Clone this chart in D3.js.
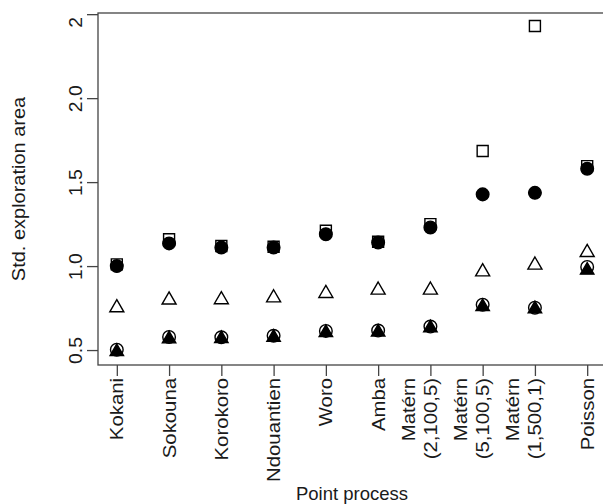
<!DOCTYPE html>
<html lang="en">
<head>
  <meta charset="UTF-8">
  <title>Std. exploration area by point process</title>
  <script src="https://d3js.org/d3.v7.min.js"></script>
  <style>
    body { margin: 0; background: #fff; }
    svg text { font-family: "Liberation Sans", Arial, Helvetica, sans-serif; fill: #1a1a1a; }
    .axis path, .axis line { stroke: #444; stroke-width: 1.3; }
  </style>
</head>
<body>
  <svg width="603" height="504"></svg>
  <script>
    // categories (multi-line labels split by "\n")
    const categories = ["Kokani", "Sokouna", "Korokoro", "Ndouantien", "Woro", "Amba",
      "Matérn\n(2,100,5)", "Matérn\n(5,100,5)", "Matérn\n(1,500,1)", "Poisson"];

    // series values
    const openSquare   = [1.01, 1.16, 1.12, 1.115, 1.21, 1.145, 1.25, 1.685, 2.43, 1.595];
    const filledCircle = [1.00, 1.135, 1.11, 1.11, 1.19, 1.14, 1.23, 1.427, 1.436, 1.58];
    const openTriangle = [0.752, 0.798, 0.80, 0.811, 0.837, 0.857, 0.857, 0.966, 1.006, 1.081];
    const openCircle   = [0.502, 0.578, 0.576, 0.585, 0.614, 0.616, 0.64, 0.77, 0.752, 0.995];
    const filledTriangle = [0.49, 0.566, 0.568, 0.575, 0.604, 0.607, 0.632, 0.758, 0.745, 0.975];

    const yTicks = [0.5, 1.0, 1.5, 2.0, 2.5];
    const yTickLabels = ["0.5", "1.0", "1.5", "2.0", "2"];

    const svg = d3.select("svg");
    const margin = {left: 98, top: 13, right: -3, bottom: 139};
    const W = 603, H = 504;

    const x = d3.scaleLinear().domain([0.64, 10.36]).range([margin.left, W - margin.right]);
    const y = d3.scaleLinear().domain([0.411, 2.507]).range([H - margin.bottom, margin.top]);

    // box
    svg.append("rect")
      .attr("x", x(0.64)).attr("y", y(2.507))
      .attr("width", x(10.36) - x(0.64)).attr("height", y(0.411) - y(2.507))
      .attr("fill", "none").attr("stroke", "#444").attr("stroke-width", 1.3);

    // y axis
    const yAxis = svg.append("g")
      .attr("class", "axis")
      .attr("transform", `translate(${margin.left},0)`)
      .call(d3.axisLeft(y).tickValues(yTicks).tickSize(11).tickSizeOuter(0)
        .tickFormat((d, i) => yTickLabels[i]));
    yAxis.select(".domain").remove();
    yAxis.selectAll("text")
      .attr("font-size", 18)
      .attr("text-anchor", "middle")
      .attr("x", (d, i) => i === yTicks.length - 1 ? -7 : 0)
      .attr("y", -16)
      .attr("dy", null)
      .attr("transform", "rotate(-90) scale(1.08,1)");

    // x axis
    const xAxis = svg.append("g")
      .attr("class", "axis")
      .attr("transform", `translate(0,${y(0.411)})`)
      .call(d3.axisBottom(x).tickValues(d3.range(1, categories.length + 1))
        .tickSize(11).tickSizeOuter(0).tickFormat(""));
    xAxis.select(".domain").remove();

    categories.forEach((c, i) => {
      const lines = c.split("\n");
      lines.forEach((ln, j) => {
        const off = (lines.length - 1 - j) * 22;
        svg.append("text")
          .attr("transform", `translate(${x(i + 1) - off},${y(0.411) + 13}) rotate(-90) scale(1.13,1)`)
          .attr("text-anchor", "end")
          .attr("dy", "0.36em")
          .attr("font-size", 18)
          .text(ln);
      });
    });

    // titles
    svg.append("text")
      .attr("x", (x(0.64) + x(10.36)) / 2).attr("y", 500)
      .attr("text-anchor", "middle").attr("font-size", 18.5)
      .text("Point process");
    svg.append("text")
      .attr("transform", `translate(25,${(y(0.411) + y(2.507)) / 2}) rotate(-90) scale(1.08,1)`)
      .attr("text-anchor", "middle").attr("font-size", 18.5)
      .text("Std. exploration area");

    // markers
    const series = [
      {vals: openSquare, type: d3.symbolSquare, size: 121, fill: "none", stroke: "#000"},
      {vals: filledCircle, type: d3.symbolCircle, size: 125, fill: "#000", stroke: "#000"},
      {vals: openTriangle, type: d3.symbolTriangle, size: 85, fill: "#fff", stroke: "#000"},
      {vals: openCircle, type: d3.symbolCircle, size: 125, fill: "none", stroke: "#000"},
      {vals: filledTriangle, type: d3.symbolTriangle, size: 78, fill: "#000", stroke: "#000"}
    ];
    series.forEach(s => {
      svg.append("g").selectAll("path")
        .data(s.vals)
        .join("path")
        .attr("transform", (d, i) => `translate(${x(i + 1)},${y(d)})`)
        .attr("d", d3.symbol().type(s.type).size(s.size))
        .attr("fill", s.fill)
        .attr("stroke", s.stroke)
        .attr("stroke-width", 1.4);
    });
  </script>
</body>
</html>
